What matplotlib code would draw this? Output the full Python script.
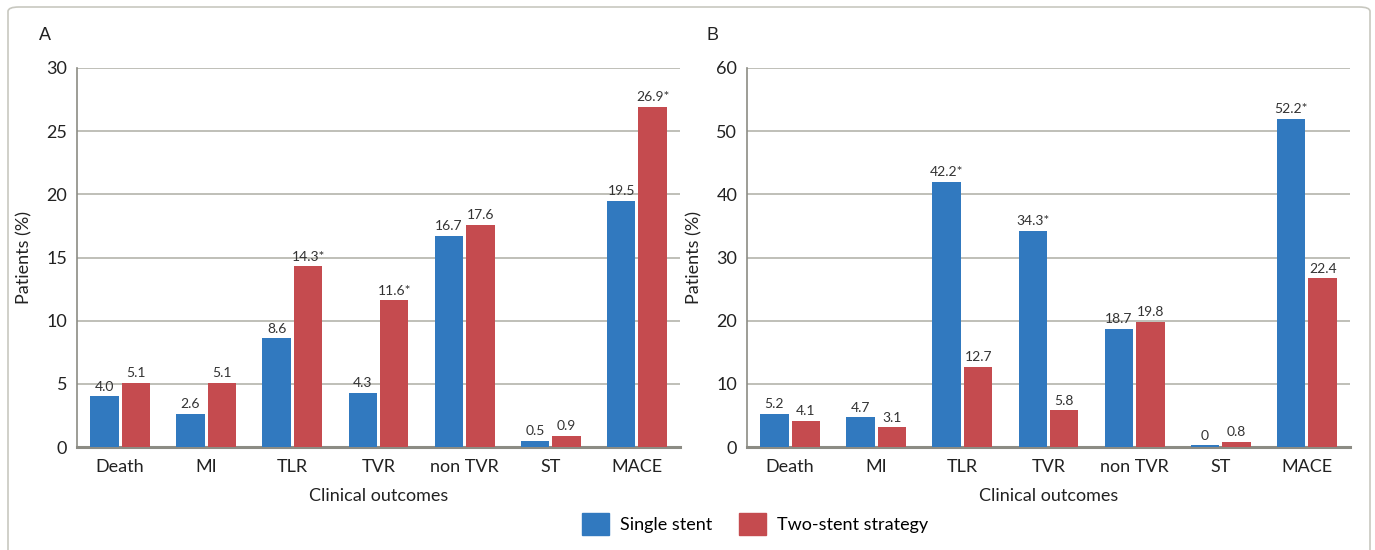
import matplotlib.pyplot as plt
import numpy as np
from matplotlib.patches import FancyBboxPatch, Patch

categories = ['Death', 'MI', 'TLR', 'TVR', 'non TVR', 'ST', 'MACE']

# panel A
a_single = [4.0, 2.6, 8.6, 4.3, 16.7, 0.5, 19.5]
a_two = [5.1, 5.1, 14.3, 11.6, 17.6, 0.9, 26.9]
a_single_lbl = ['4.0', '2.6', '8.6', '4.3', '16.7', '0.5', '19.5']
a_two_lbl = ['5.1', '5.1', '14.3*', '11.6*', '17.6', '0.9', '26.9*']

# panel B (bar heights as drawn, labels as printed)
b_single = [5.2, 4.7, 42.0, 34.2, 18.7, 0.25, 52.0]
b_two = [4.1, 3.1, 12.7, 5.8, 19.8, 0.8, 26.7]
b_single_lbl = ['5.2', '4.7', '42.2*', '34.3*', '18.7', '0', '52.2*']
b_two_lbl = ['4.1', '3.1', '12.7', '5.8', '19.8', '0.8', '22.4']

blue = '#3179bf'
red = '#c54b4f'
grid_c = '#b4b4ac'
spine_c = '#8c8c84'
txt_c = '#222222'
main_font = ['Lato', 'DejaVu Sans']

fig = plt.figure(figsize=(13.75, 5.5), dpi=100)

border = FancyBboxPatch((8 / 1375, -0.05), 1362 / 1375, (550 - 7) / 550 + 0.05,
                        boxstyle='round,pad=0,rounding_size=0.008',
                        transform=fig.transFigure, fill=False,
                        edgecolor='#c8c8c0', linewidth=1.2)
fig.patches.append(border)


def panel(rect, s, t, sl, tl, ymax, step, letter, lx):
    ax = fig.add_axes(rect)
    x = np.arange(len(categories))
    w = 0.33
    ax.bar(x - w / 2 - 0.018, s, w, color=blue, zorder=3)
    ax.bar(x + w / 2 + 0.018, t, w, color=red, zorder=3)
    for i in range(len(categories)):
        ax.text(x[i] - w / 2 - 0.018, s[i] + ymax * 0.01, sl[i], ha='center', va='bottom',
                fontsize=10, family=main_font, color='#333333', zorder=4)
        ax.text(x[i] + w / 2 + 0.018, t[i] + ymax * 0.01, tl[i], ha='center', va='bottom',
                fontsize=10, family=main_font, color='#333333', zorder=4)
    ax.set_xlim(-0.5, len(categories) - 0.5)
    ax.set_ylim(0, ymax)
    ax.set_yticks(np.arange(0, ymax + 1, step))
    ax.set_xticks(x)
    ax.set_xticklabels(categories, family=main_font, fontsize=13, color=txt_c)
    for lab in ax.get_yticklabels():
        lab.set_family(main_font)
        lab.set_fontsize(13)
        lab.set_color(txt_c)
    ax.tick_params(length=0, pad=7)
    ax.tick_params(axis='x', pad=9)
    ax.yaxis.grid(True, color=grid_c, linewidth=1.2, zorder=0)
    ax.set_axisbelow(True)
    for sp in ['top', 'right']:
        ax.spines[sp].set_visible(False)
    ax.spines['left'].set_color(spine_c)
    ax.spines['left'].set_linewidth(1.2)
    ax.spines['bottom'].set_color(spine_c)
    ax.spines['bottom'].set_linewidth(2.2)
    ax.set_xlabel('Clinical outcomes', family=main_font, fontsize=13, color=txt_c, labelpad=9)
    ax.set_ylabel('Patients (%)', family=main_font, fontsize=13, color=txt_c, labelpad=10)
    fig.text(lx, (550 - 35) / 550, letter, family='Liberation Sans', fontsize=13,
             color=txt_c, ha='left', va='center')
    return ax


panel([77 / 1375, 103 / 550, 603 / 1375, 379 / 550], a_single, a_two,
      a_single_lbl, a_two_lbl, 30, 5, 'A', 39 / 1375)
panel([747 / 1375, 103 / 550, 603 / 1375, 379 / 550], b_single, b_two,
      b_single_lbl, b_two_lbl, 60, 10, 'B', 707 / 1375)

handles = [Patch(color=blue, label='Single stent'), Patch(color=red, label='Two-stent strategy')]
fig.legend(handles=handles, loc='center', bbox_to_anchor=(755 / 1375, (550 - 524) / 550), ncol=2,
           frameon=False, prop={'family': main_font, 'size': 13}, handlelength=1.5,
           handleheight=1.5, columnspacing=1.5, handletextpad=0.6)

fig.savefig('out.png', dpi=100)
